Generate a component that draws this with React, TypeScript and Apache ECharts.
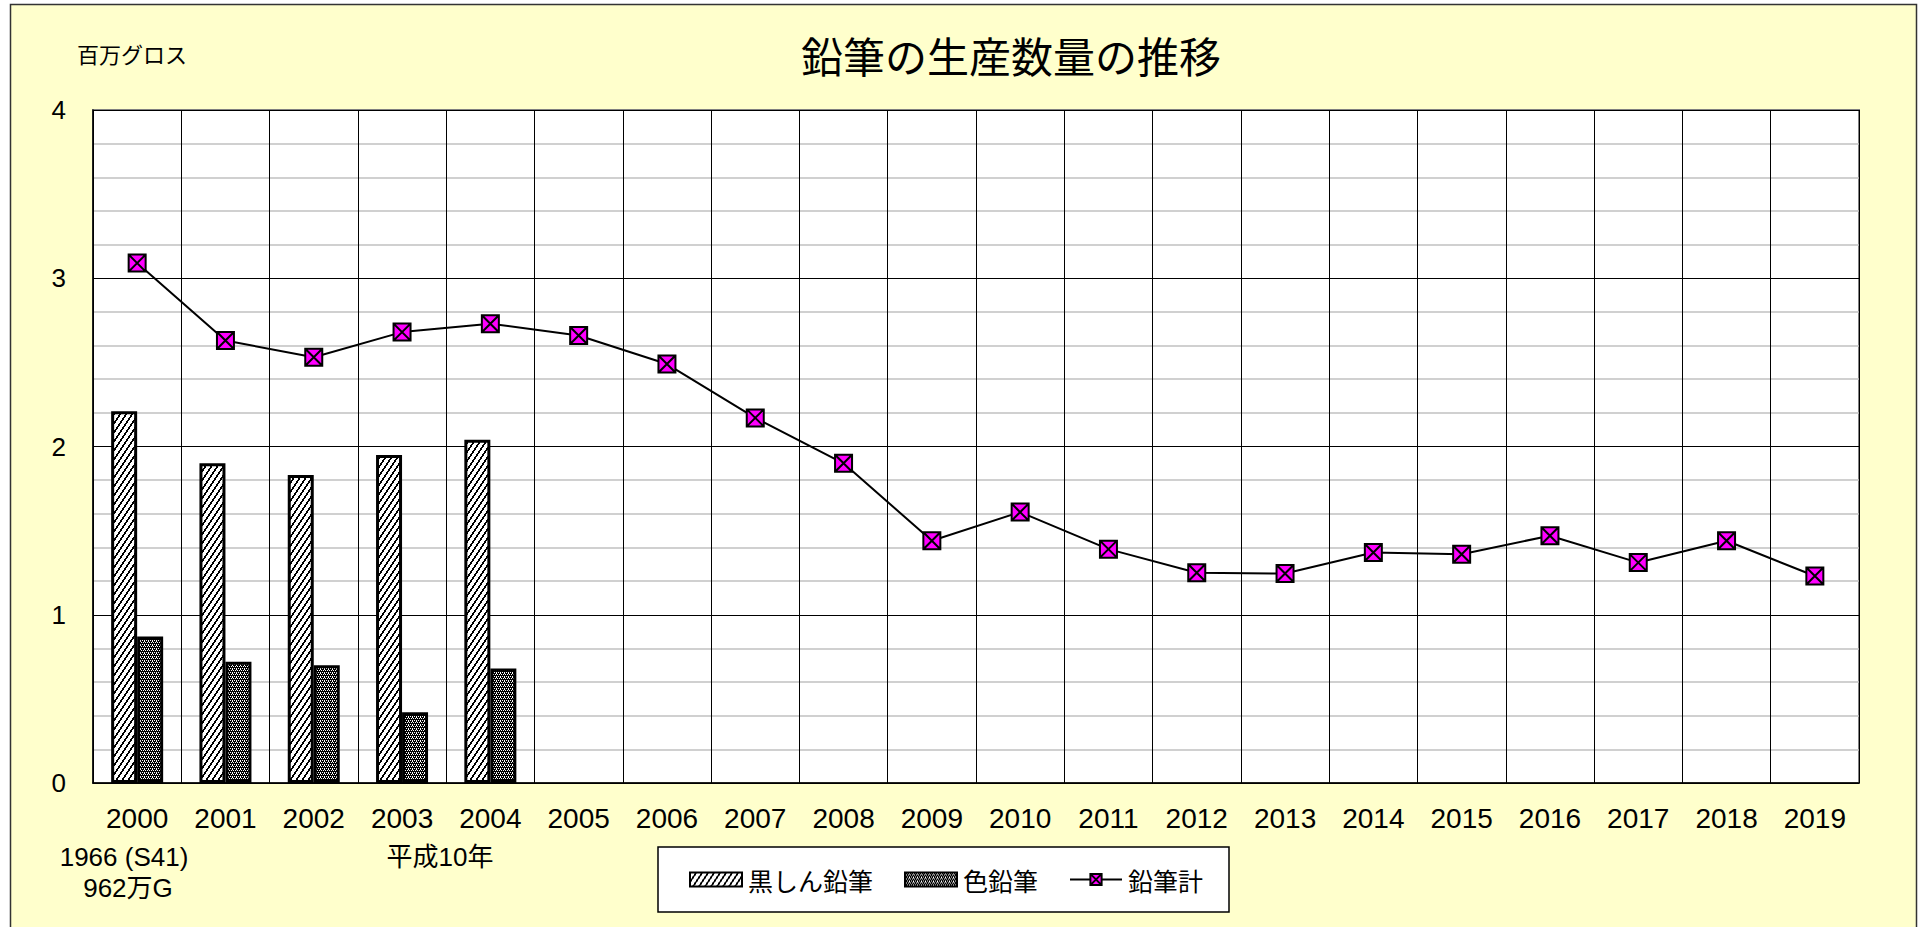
import React, { useEffect, useRef } from "react";
import * as echarts from "echarts";

const years = ["2000","2001","2002","2003","2004","2005","2006","2007","2008","2009","2010","2011","2012","2013","2014","2015","2016","2017","2018","2019"];
const blackLead = [2.21, 1.9, 1.83, 1.95, 2.04];
const coloredPencil = [0.87, 0.72, 0.7, 0.42, 0.68];
const pencilTotal = [3.09, 2.63, 2.53, 2.68, 2.73, 2.66, 2.49, 2.17, 1.9, 1.44, 1.61, 1.39, 1.25, 1.245, 1.37, 1.36, 1.47, 1.31, 1.44, 1.23];
const yTicks = [0, 1, 2, 3, 4];

const FONT = "'Liberation Sans', Arial, 'Noto Sans CJK JP', sans-serif";
const JFONT = "'Noto Sans CJK JP', 'Liberation Sans', sans-serif";

function makeHatch() {
  const w = 6, h = 9;
  const c = document.createElement("canvas");
  c.width = w; c.height = h;
  const ctx = c.getContext("2d")!;
  ctx.fillStyle = "#fff";
  ctx.fillRect(0, 0, w, h);
  ctx.fillStyle = "#000";
  for (let y = 0; y < h; y++) {
    const x0 = Math.floor(((h - 1 - y) * w) / h);
    ctx.fillRect(x0, y, 1, 1);
    ctx.fillRect((x0 + 1) % w, y, 1, 1);
  }
  return { image: c, repeat: "repeat", imageWidth: w, imageHeight: h };
}

function makeLattice() {
  const w = 4, h = 4;
  const c = document.createElement("canvas");
  c.width = w; c.height = h;
  const ctx = c.getContext("2d")!;
  ctx.fillStyle = "#000";
  ctx.fillRect(0, 0, w, h);
  ctx.fillStyle = "#fff";
  const pts = [[0, 0], [2, 0], [1, 2], [3, 2], [0, 1]];
  pts.forEach(([x, y]) => ctx.fillRect(x, y, 1, 1));
  return { image: c, repeat: "repeat", imageWidth: w, imageHeight: h };
}

export default function App() {
  const ref = useRef<HTMLDivElement>(null);
  useEffect(() => {
    if (!ref.current) return;
    const chart = echarts.init(ref.current, null, { renderer: "svg" });
    const hatch = makeHatch();
    const lattice = makeLattice();
    const option: any = {
      animation: false,
      backgroundColor: "#ffffff",
      graphic: {
        elements: [
          {
            type: "rect",
            z: -10,
            silent: true,
            shape: { x: 10.5, y: 4.5, width: 1906, height: 940 },
            style: { fill: "#FFFFCC", stroke: "#333", lineWidth: 1.5 },
          },
          {
            type: "text",
            x: 1011,
            y: 54,
            style: { text: "鉛筆の生産数量の推移", fontSize: 42, fontFamily: JFONT, fill: "#000", align: "center", verticalAlign: "middle" },
          },
          {
            type: "text",
            x: 132,
            y: 53,
            style: { text: "百万グロス", fontSize: 22, fontFamily: JFONT, fill: "#000", align: "center", verticalAlign: "middle" },
          },
          {
            type: "text",
            x: 124,
            y: 857,
            style: { text: "1966 (S41)", fontSize: 26, fontFamily: FONT, fill: "#000", align: "center", verticalAlign: "middle" },
          },
          {
            type: "text",
            x: 128,
            y: 888,
            style: { text: "962万G", fontSize: 26, fontFamily: FONT, fill: "#000", align: "center", verticalAlign: "middle" },
          },
          {
            type: "text",
            x: 440,
            y: 857,
            style: { text: "平成10年", fontSize: 26, fontFamily: FONT, fill: "#000", align: "center", verticalAlign: "middle" },
          },
        ],
      },
      grid: {
        left: 93,
        top: 110,
        right: 67,
        bottom: 144,
        show: true,
        backgroundColor: "#ffffff",
        borderColor: "#808080",
        borderWidth: 2,
      },
      legend: {
        left: 658,
        top: 847,
        orient: "horizontal",
        backgroundColor: "#ffffff",
        borderColor: "#000",
        borderWidth: 1.5,
        padding: [20, 26, 20, 31],
        itemWidth: 52,
        itemHeight: 14,
        itemGap: 31,
        textStyle: { fontSize: 25, fontFamily: JFONT, color: "#000", padding: [0, 0, 0, 1] },
        data: [
          { name: "黒しん鉛筆", icon: "rect" },
          { name: "色鉛筆", icon: "rect" },
          { name: "鉛筆計" },
        ],
      },
      xAxis: {
        type: "category",
        data: years,
        boundaryGap: true,
        axisLine: { show: true, lineStyle: { color: "#000", width: 1.5 } },
        axisTick: { show: false },
        axisLabel: { interval: 0, fontSize: 28, fontFamily: FONT, color: "#000", margin: 21 },
        splitLine: { show: true, interval: 0, lineStyle: { color: "#000", width: 1 } },
      },
      yAxis: {
        type: "value",
        min: yTicks[0],
        max: yTicks[yTicks.length - 1],
        interval: 1,
        axisLine: { show: true, lineStyle: { color: "#000", width: 1.5 } },
        axisTick: { show: true, inside: true, length: 8, lineStyle: { color: "#000" } },
        axisLabel: { fontSize: 26, fontFamily: FONT, color: "#000", margin: 27 },
        splitLine: { show: true, lineStyle: { color: "#000", width: 1 } },
        minorTick: { show: false, splitNumber: 5 },
        minorSplitLine: { show: true, lineStyle: { color: "#c0c0c0", width: 1.5 } },
      },
      series: [
        {
          name: "黒しん鉛筆",
          type: "bar",
          data: blackLead,
          barWidth: 26,
          barGap: "0%",
          itemStyle: { color: hatch, borderColor: "#000", borderWidth: 3 },
          z: 2,
        },
        {
          name: "色鉛筆",
          type: "bar",
          data: coloredPencil,
          barWidth: 26,
          barGap: "0%",
          itemStyle: { color: lattice, borderColor: "#000", borderWidth: 3 },
          z: 2,
        },
        {
          name: "鉛筆計",
          type: "line",
          data: pencilTotal,
          symbol: "path://M0,0L10,0L10,10L0,10ZM0,0L10,10M10,0L0,10",
          symbolSize: 17,
          lineStyle: { color: "#000", width: 2 },
          itemStyle: { color: "#FF00FF", borderColor: "#000", borderWidth: 2 },
          z: 5,
        },
      ],
    };
    chart.setOption(option);
    return () => chart.dispose();
  }, []);
  return (
    <div
      ref={ref}
      style={{ position: "absolute", left: 0, top: 0, width: 1926, height: 927 }}
    />
  );
}
